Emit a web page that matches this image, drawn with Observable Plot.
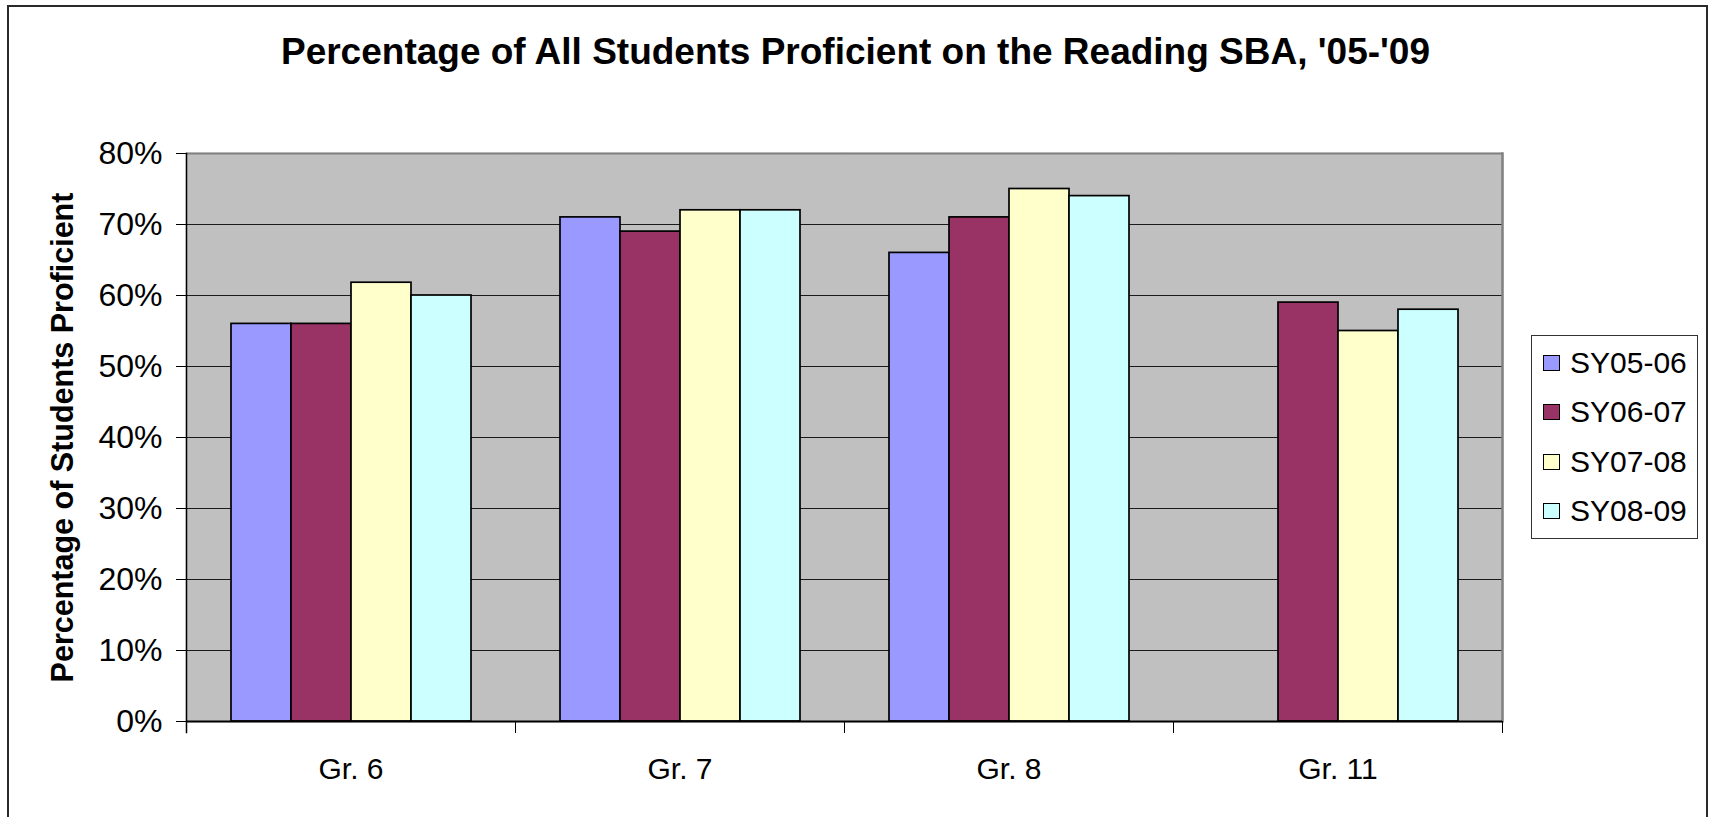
<!DOCTYPE html>
<html><head><meta charset="utf-8">
<script src="https://cdn.jsdelivr.net/npm/d3@7"></script>
<script src="https://cdn.jsdelivr.net/npm/@observablehq/plot@0.6"></script>
<style>
html,body{margin:0;padding:0;background:#fff;overflow:hidden;}
#wrap{position:relative;width:1711px;height:817px;font-family:"Liberation Sans",Arial,sans-serif;color:#000;}
#border{position:absolute;left:7px;top:5px;width:1701px;height:900px;border:2px solid #2a2a2a;box-sizing:border-box;}
#title{position:absolute;left:0;width:1711px;top:30px;text-align:center;font-weight:bold;font-size:37px;line-height:44px;}
#chart{position:absolute;left:0;top:0;}
#legend{position:absolute;left:1531px;top:335px;width:167px;height:204px;border:1.5px solid #333;box-sizing:border-box;background:#fff;padding-top:2px;}
.row{display:flex;align-items:center;height:49.5px;padding-left:11px;font-size:30px;}
.sw{width:17px;height:16px;border:1.5px solid #000;margin-right:10px;box-sizing:border-box;}
</style></head>
<body>
<div id="wrap">
  <div id="border"></div>
  <div id="chart"></div>
  <div id="title">Percentage of All Students Proficient on the Reading SBA, '05-'09</div>
  <div id="legend"></div>
</div>
<script>
const grades = ["Gr. 6", "Gr. 7", "Gr. 8", "Gr. 11"];
const years = ["SY05-06", "SY06-07", "SY07-08", "SY08-09"];
const colors = ["#9999FF", "#993366", "#FFFFCC", "#CCFFFF"];
const sy0506 = [56, 71, 66, null];
const sy0607 = [56, 69, 71, 59];
const sy0708 = [61.8, 72, 75, 55];
const sy0809 = [60, 72, 74, 58];
const yTicks = [0, 10, 20, 30, 40, 50, 60, 70, 80];

const seriesValues = [sy0506, sy0607, sy0708, sy0809];
const rows = [];
grades.forEach((g, i) => {
  years.forEach((y, j) => {
    const v = seriesValues[j][i];
    if (v != null) rows.push({grade: g, year: y, value: v});
  });
});

const W = 1711, H = 817;
const mL = 184, mR = 208, mT = 153, mB = 96;
const innerH = H - mT - mB;
const font = "Liberation Sans, Arial, sans-serif";

const chart = Plot.plot({
  width: W, height: H,
  marginLeft: mL, marginRight: mR, marginTop: mT, marginBottom: mB,
  style: {fontFamily: font, background: "transparent", overflow: "visible", color: "#000"},
  fx: {domain: grades, padding: 0, label: null},
  x: {domain: years, paddingInner: 0, paddingOuter: 0.7, axis: null},
  y: {domain: [0, 80], label: null},
  color: {domain: years, range: colors},
  marks: [
    Plot.frame({fill: "#C0C0C0", stroke: "#C0C0C0", strokeWidth: 1.5}),
    Plot.ruleY(yTicks, {stroke: "#1a1a1a", strokeWidth: 1}),
    Plot.ruleY([80], {stroke: "#808080", strokeWidth: 2}),
    Plot.frame({anchor: "right", stroke: "#808080", strokeWidth: 2.5, fx: () => grades[grades.length - 1]}),
    Plot.barY(rows, {fx: "grade", x: "year", y: "value", fill: "year", stroke: "#000", strokeWidth: 1.7}),
    Plot.ruleY([0], {stroke: "#000", strokeWidth: 2}),
    Plot.frame({anchor: "left", stroke: "#000", strokeWidth: 1.5, insetBottom: -11, fx: () => grades[0]}),
    Plot.frame({anchor: "left", stroke: "#000", strokeWidth: 1, insetTop: innerH, insetBottom: -11}),
    Plot.frame({anchor: "right", stroke: "#000", strokeWidth: 1, insetTop: innerH, insetBottom: -11, fx: () => grades[grades.length - 1]}),
    Plot.axisY(yTicks, {tickFormat: d => d + "%", tickSize: 10, tickPadding: 14, fontSize: 32, label: null}),
    Plot.axisY({ticks: [], label: "Percentage of Students Proficient", labelAnchor: "center", labelOffset: 135, fontSize: 30.5, fontWeight: "bold", labelArrow: "none"}),
    Plot.axisFx({anchor: "bottom", tickSize: 0, tickPadding: 36, fontSize: 30, label: null})
  ]
});
document.getElementById("chart").appendChild(chart);

const legend = document.getElementById("legend");
years.forEach((y, j) => {
  const row = document.createElement("div");
  row.className = "row";
  const sw = document.createElement("div");
  sw.className = "sw";
  sw.style.background = colors[j];
  const t = document.createElement("span");
  t.textContent = y;
  row.appendChild(sw);
  row.appendChild(t);
  legend.appendChild(row);
});
</script>
</body></html>
